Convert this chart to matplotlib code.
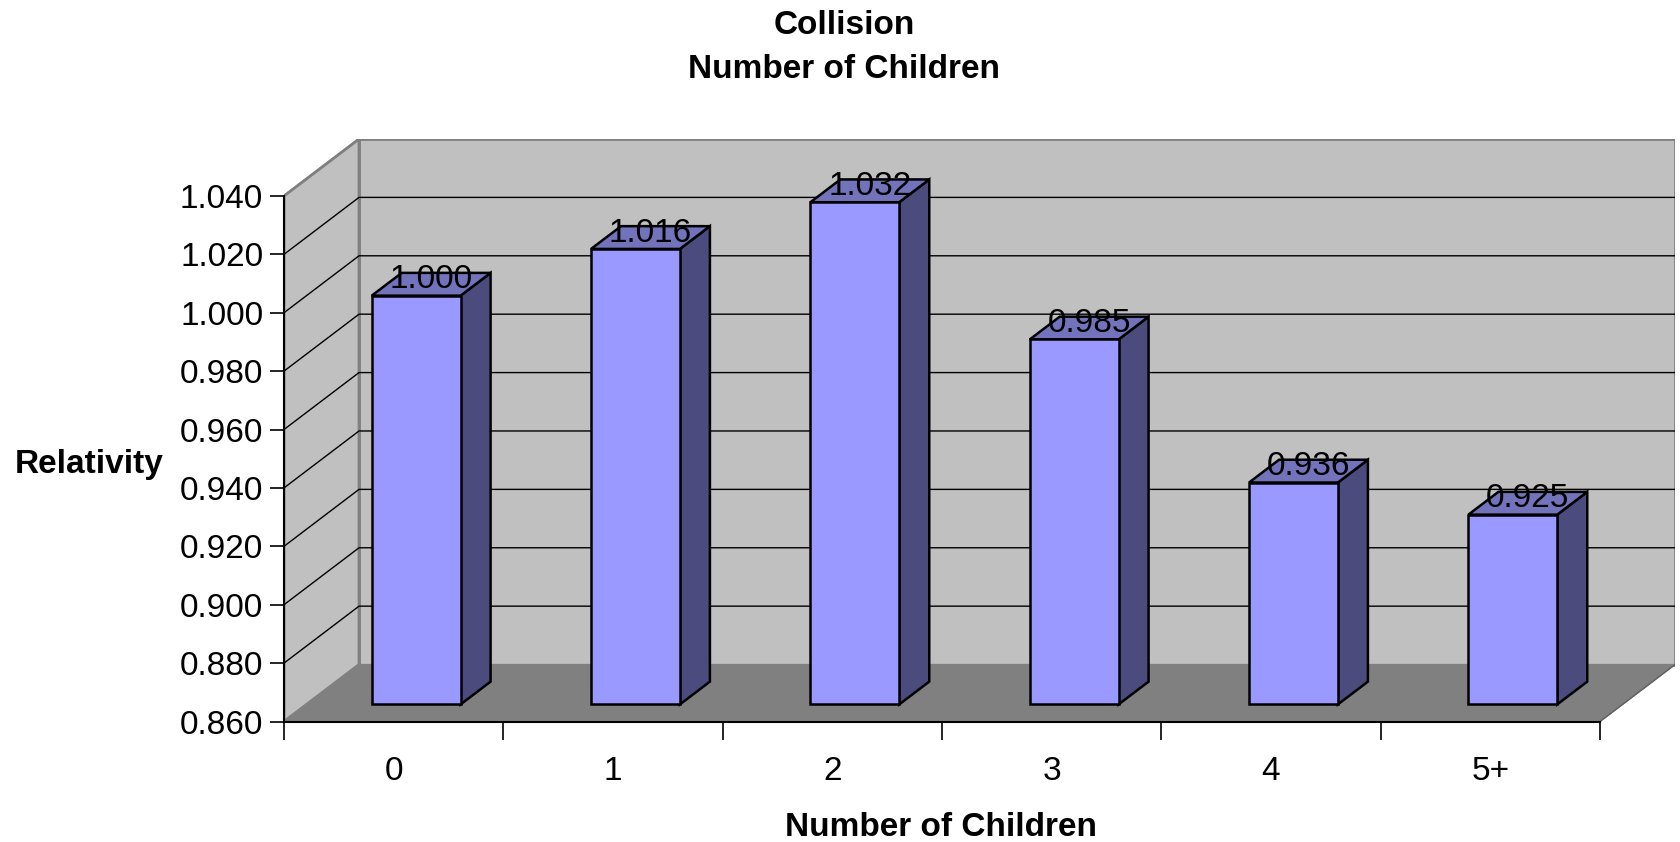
import numpy as np
import matplotlib.pyplot as plt
from matplotlib.patches import Polygon

plt.rcParams['font.family'] = ['Liberation Sans', 'DejaVu Sans']

# data
categories = ['0', '1', '2', '3', '4', '5+']
values = [1.000, 1.016, 1.032, 0.985, 0.936, 0.925]
yticks = [0.86, 0.88, 0.90, 0.92, 0.94, 0.96, 0.98, 1.00, 1.02, 1.04]

ymin, ymax = 0.86, 1.04
n = len(categories)
# depth offset of the 3D box (in data units)
dx, dy = 0.342, 0.0195
bw = 0.405          # bar width
d0, d1 = 0.3, 0.7   # bar depth range (fraction of floor depth)

fig = plt.figure(figsize=(16.81, 8.42), dpi=100)
ax = fig.add_axes([284 / 1681, (842 - 721.5) / 842, 1391 / 1681, 582.5 / 842])
ax.set_xlim(0, n + dx)
ax.set_ylim(ymin, ymax + dy)
ax.patch.set_visible(False)

wall = '#C0C0C0'
edge = '#808080'

# back wall, side wall, floor
ax.add_patch(Polygon([(dx, ymin + dy), (n + dx, ymin + dy), (n + dx, ymax + dy), (dx, ymax + dy)],
                     facecolor=wall, edgecolor=edge, lw=2, zorder=1))
ax.add_patch(Polygon([(0, ymin), (dx, ymin + dy), (dx, ymax + dy), (0, ymax)],
                     facecolor=wall, edgecolor=edge, lw=2, zorder=1))
ax.add_patch(Polygon([(0, ymin), (n, ymin), (n + dx, ymin + dy), (dx, ymin + dy)],
                     facecolor='#808080', edgecolor='#808080', lw=1, zorder=2))
ax.plot([n, n + dx], [ymin, ymin + dy], color='#606060', lw=1, zorder=2)

# gridlines on walls
for v in yticks[1:-1]:
    ax.plot([0, dx, n + dx], [v, v + dy, v + dy], color='black', lw=1, zorder=1.5)
ax.plot([0, dx], [ymax, ymax + dy], color=edge, lw=1.5, zorder=1.5)

# bars
for i, v in enumerate(values):
    x0 = i + 0.5 - bw / 2
    fx, fy = x0 + d0 * dx, ymin + d0 * dy
    sx, sy = (d1 - d0) * dx, (d1 - d0) * dy
    top = v + d0 * dy
    front = [(fx, fy), (fx + bw, fy), (fx + bw, top), (fx, top)]
    side = [(fx + bw, fy), (fx + bw + sx, fy + sy), (fx + bw + sx, top + sy), (fx + bw, top)]
    topf = [(fx, top), (fx + bw, top), (fx + bw + sx, top + sy), (fx + sx, top + sy)]
    ax.add_patch(Polygon(side, facecolor='#4B4B7E', edgecolor='black', lw=1.8, zorder=3))
    ax.add_patch(Polygon(topf, facecolor='#7373BC', edgecolor='black', lw=1.8, zorder=3))
    ax.add_patch(Polygon(front, facecolor='#9999FF', edgecolor='black', lw=1.8, zorder=3))
    ax.text(i + 0.5 + 0.5 * dx, v + 0.5 * dy - 0.0014, f'{v:.3f}', ha='center', va='baseline',
            fontsize=24, color='black', zorder=4)

# axes
for s in ['top', 'right']:
    ax.spines[s].set_visible(False)
ax.spines['left'].set_bounds(ymin, ymax)
ax.spines['bottom'].set_bounds(0, n)
for s in ['left', 'bottom']:
    ax.spines[s].set_linewidth(1.5)
    ax.spines[s].set_zorder(5)

ax.set_yticks(yticks)
ax.set_yticklabels([f'{t:.3f}' for t in yticks])
ax.tick_params(axis='y', length=10, width=1.2, pad=5, labelsize=24)

ax.set_xticks(np.arange(n + 1))
ax.set_xticklabels([])
ax.set_xticks(np.arange(n) + 0.5, minor=True)
ax.set_xticklabels(categories, minor=True)
ax.tick_params(axis='x', which='major', length=13, width=1.2, color='black')
ax.tick_params(axis='x', which='minor', length=0, pad=25, labelsize=24)

fig.text(844 / 1681, 1 - 26 / 842, 'Collision', ha='center', va='center', fontsize=24, fontweight='bold')
fig.text(844 / 1681, 1 - 69 / 842, 'Number of Children', ha='center', va='center', fontsize=24, fontweight='bold')
fig.text(941 / 1681, 1 - 827 / 842, 'Number of Children', ha='center', va='center', fontsize=24, fontweight='bold')
fig.text(89 / 1681, 1 - 465 / 842, 'Relativity', ha='center', va='center', fontsize=24, fontweight='bold')

fig.savefig('out.png', dpi=100)
